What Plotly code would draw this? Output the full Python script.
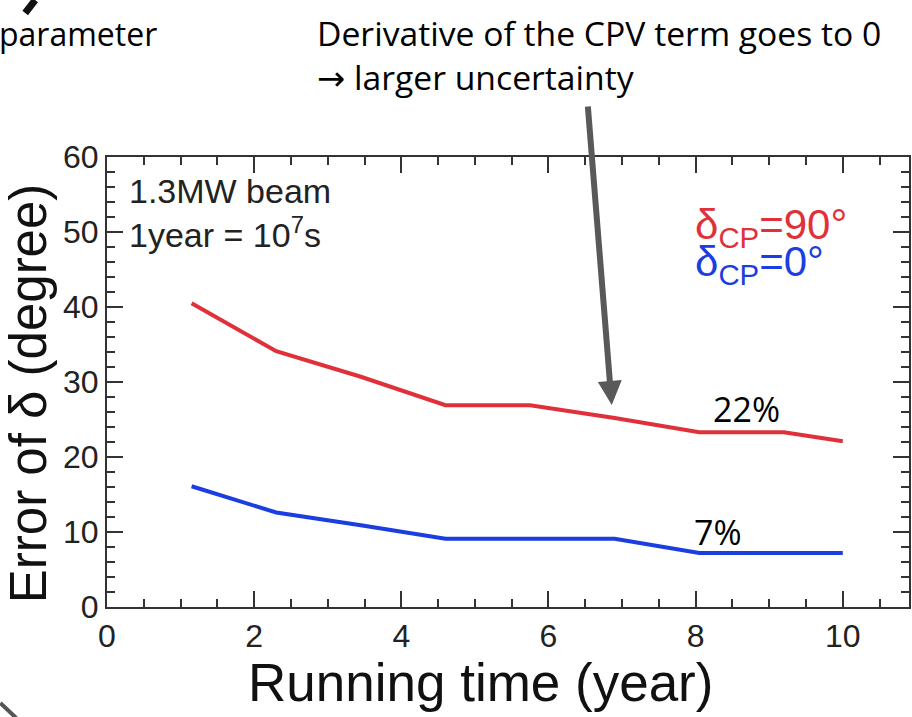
import plotly.graph_objects as go

# ---- data ----
years = [1.15, 2.3, 3.45, 4.6, 5.75, 6.9, 8.05, 9.2, 10.0]
err_cp90 = [40.5, 34.1, 30.7, 26.9, 26.9, 25.2, 23.3, 23.3, 22.1]
err_cp0 = [16.1, 12.6, 10.9, 9.1, 9.1, 9.1, 7.2, 7.2, 7.2]
x_ticks = [0, 2, 4, 6, 8, 10]
y_ticks = [0, 10, 20, 30, 40, 50, 60]

RED = "#e0303a"
BLUE = "#1a3ee0"
AX = "#333333"
CHART_FONT = "Liberation Sans, Arial, sans-serif"
SLIDE_FONT = "Open Sans, Noto Sans, sans-serif"

fig = go.Figure()
fig.add_trace(go.Scatter(x=years, y=err_cp90, mode="lines",
                         line=dict(color=RED, width=4), showlegend=False))
fig.add_trace(go.Scatter(x=years, y=err_cp0, mode="lines",
                         line=dict(color=BLUE, width=4), showlegend=False))

axis_common = dict(
    showgrid=False, zeroline=False, showline=True, linecolor=AX, linewidth=2,
    mirror="ticks", ticks="inside", ticklen=16, tickwidth=2, tickcolor=AX,
    tickfont=dict(family=CHART_FONT, size=32, color="#222222"),
)
fig.update_xaxes(range=[0, 10.9], tickvals=x_ticks,
                 minor=dict(dtick=0.5, ticks="inside", ticklen=8, tickwidth=2, tickcolor=AX),
                 **axis_common)
fig.update_yaxes(range=[0, 60], tickvals=y_ticks,
                 minor=dict(dtick=2, ticks="inside", ticklen=8, tickwidth=2, tickcolor=AX),
                 **axis_common)

annotations = [
    # axis titles
    dict(text="Running time (year)", x=481, y=682, xanchor="center", yanchor="middle",
         font=dict(family=CHART_FONT, size=53, color="#111111")),
    dict(text="Error of δ (degree)", x=28, y=393, textangle=-90, xanchor="center", yanchor="middle",
         font=dict(family=CHART_FONT, size=51, color="#111111")),
    # inset text
    dict(text="1.3MW beam<br>1year = 10<sup>7</sup>s", x=127, y=170,
         xanchor="left", yanchor="top", align="left",
         font=dict(family=CHART_FONT, size=34, color="#222222")),
    dict(text="δ<sub>CP</sub>=90°", x=694, y=227, xanchor="left", yanchor="middle",
         font=dict(family=CHART_FONT, size=42, color=RED)),
    dict(text="δ<sub>CP</sub>=0°", x=694, y=264, xanchor="left", yanchor="middle",
         font=dict(family=CHART_FONT, size=42, color=BLUE)),
    # percentages
    dict(text="22%", x=748, y=409, xanchor="center", yanchor="middle",
         font=dict(family=SLIDE_FONT, size=34, color="#000000")),
    dict(text="7%", x=720, y=532, xanchor="center", yanchor="middle",
         font=dict(family=SLIDE_FONT, size=34, color="#000000")),
    # slide text
    dict(text="Derivative of the CPV term goes to 0<br>"
              "<span style='font-family:DejaVu Sans'>→</span> larger uncertainty",
         x=316, y=8, xanchor="left", yanchor="top", align="left",
         font=dict(family=SLIDE_FONT, size=33.7, color="#000000")),
    dict(text="parameter", x=-3, y=10, xanchor="left", yanchor="top",
         font=dict(family=SLIDE_FONT, size=32, color="#000000")),
]

W, H = 912, 717
L, R, T, B = 107, 1, 157, 110
pw, ph = W - L - R, H - T - B


def px2paper(px, py):
    return (px - L) / pw, (H - B - py) / ph


for a in annotations:
    a["x"], a["y"] = px2paper(a["x"], a["y"])
    a["xref"] = "paper"
    a["yref"] = "paper"
    a["showarrow"] = False

# arrow pointing at the red curve
tip = (613, 405)
tail = (589, 105)
tx, ty = px2paper(*tip)
annotations.append(dict(text="", x=tx, y=ty, xref="paper", yref="paper",
                        ax=tail[0] - tip[0], ay=tail[1] - tip[1], showarrow=True,
                        arrowhead=2, arrowsize=0.8, arrowwidth=6, arrowcolor="#595959"))

x0, y0 = px2paper(35, 0)
x1, y1 = px2paper(25, 13)
x2, y2 = px2paper(0, 703)
x3, y3 = px2paper(16, 718)
shapes = [
    dict(type="line", xref="paper", yref="paper", x0=x0, y0=y0, x1=x1, y1=y1,
         line=dict(color="#111111", width=7)),
    dict(type="line", xref="paper", yref="paper", x0=x2, y0=y2, x1=x3, y1=y3,
         line=dict(color="#555555", width=4)),
]

fig.update_layout(
    width=W, height=H, margin=dict(l=L, r=R, t=T, b=B, pad=0),
    paper_bgcolor="white", plot_bgcolor="white",
    annotations=annotations, shapes=shapes, showlegend=False,
)
fig.write_html("out.html", config={"displayModeBar": False, "responsive": False},
               post_script="document.body.style.margin='0px';")
